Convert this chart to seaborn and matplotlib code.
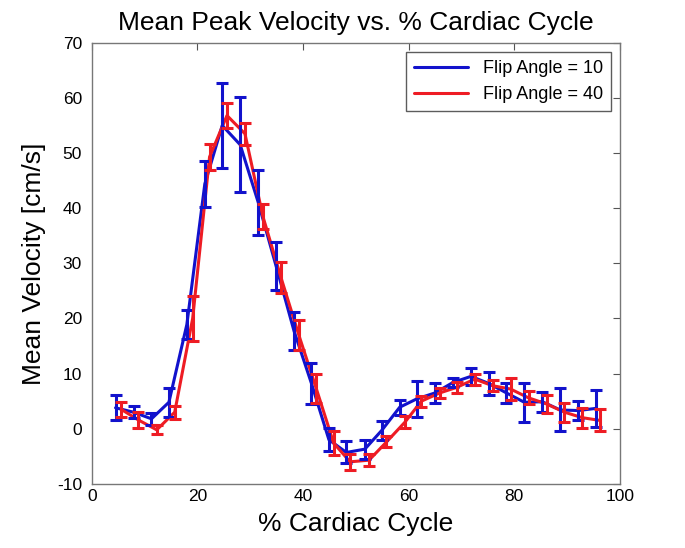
import numpy as np
import pandas as pd
import matplotlib
matplotlib.use("Agg")
import matplotlib.pyplot as plt
import seaborn as sns

# percent of cardiac cycle for each frame
x_fa10 = [4.5, 7.9, 11.3, 14.6, 18.0, 21.4, 24.7, 28.1, 31.5, 34.9, 38.3, 41.6, 44.9, 48.2,
          51.7, 54.9, 58.3, 61.5, 65.0, 68.4, 71.8, 75.2, 78.5, 81.9, 85.3, 88.7, 92.1, 95.5]
x_fa40 = [5.6, 8.8, 12.3, 15.7, 19.1, 22.3, 25.6, 29.0, 32.4, 35.8, 39.2, 42.5, 45.8, 48.9,
          52.5, 55.8, 59.3, 62.4, 65.9, 69.1, 72.5, 75.9, 79.3, 82.7, 86.1, 89.5, 92.9, 96.3]

# mean peak velocity [cm/s]
v_fa10 = [3.8, 3.0, 1.8, 4.8, 18.9, 44.4, 55.0, 51.5, 41.1, 29.5, 17.7, 8.2, -2.0, -4.3,
          -3.7, -0.3, 3.9, 5.4, 6.5, 8.4, 9.5, 8.2, 6.5, 4.8, 4.9, 3.4, 3.3, 3.7]
v_fa40 = [3.5, 1.6, -0.2, 3.0, 20.0, 49.3, 56.8, 53.5, 38.5, 27.5, 17.0, 7.3, -2.6, -6.0,
          -5.7, -2.4, 1.2, 5.0, 6.5, 7.5, 9.0, 7.8, 7.2, 5.6, 4.5, 3.0, 2.0, 1.5]

# standard deviations
e_fa10 = [2.3, 1.1, 1.1, 2.6, 2.7, 4.1, 7.7, 8.6, 5.9, 4.3, 3.4, 3.7, 2.1, 2.0,
          1.7, 1.7, 1.4, 3.2, 1.8, 0.8, 1.6, 2.0, 1.8, 3.5, 1.8, 3.9, 1.7, 3.3]
e_fa40 = [1.4, 1.5, 0.8, 1.2, 4.0, 2.3, 2.2, 2.0, 2.3, 2.8, 2.7, 2.6, 2.1, 1.5,
          1.1, 1.0, 1.1, 1.0, 0.9, 1.0, 1.0, 1.0, 2.0, 1.2, 1.6, 1.7, 1.8, 2.0]

labels = ["Flip Angle = 10", "Flip Angle = 40"]
colors = ["#1212cc", "#ee1c24"]

df = pd.DataFrame({
    "cycle": x_fa10 + x_fa40,
    "velocity": v_fa10 + v_fa40,
    "err": e_fa10 + e_fa40,
    "series": [labels[0]] * len(x_fa10) + [labels[1]] * len(x_fa40),
})

sns.set_style("white")
plt.rcParams["font.family"] = ["Liberation Sans", "DejaVu Sans"]
plt.rcParams["axes.unicode_minus"] = False
plt.rcParams["text.color"] = "black"
plt.rcParams["axes.labelcolor"] = "black"

fig = plt.figure(figsize=(6.85, 5.48), dpi=100)
ax = fig.add_axes([0.134, 0.117, 0.771, 0.805])

sns.lineplot(data=df, x="cycle", y="velocity", hue="series", palette=colors,
             linewidth=2.2, ax=ax, errorbar=None, sort=False)

for lab, col in zip(labels, colors):
    d = df[df["series"] == lab]
    ax.errorbar(d["cycle"], d["velocity"], yerr=d["err"], fmt="none", ecolor=col,
                elinewidth=2.2, capsize=4, capthick=2.2)

ax.set_xlim(0, 100)
ax.set_ylim(-10, 70)
ax.set_xticks(range(0, 101, 20))
ax.set_yticks(range(-10, 71, 10))
ax.tick_params(direction="in", length=5, labelsize=12.5, top=True, right=True,
               color="#555555", labelcolor="black")
ax.tick_params(axis="y", pad=7)
for s in ax.spines.values():
    s.set_color("#777777")
    s.set_linewidth(1.0)

ax.set_title("Mean Peak Velocity vs. % Cardiac Cycle", fontsize=19, pad=9)
ax.set_xlabel("% Cardiac Cycle", fontsize=19, labelpad=6)
ax.set_ylabel("Mean Velocity [cm/s]", fontsize=19, labelpad=8)

leg = ax.legend(loc="upper right", fontsize=13, frameon=True, fancybox=False,
                handlelength=3.0, borderaxespad=0.5, borderpad=0.45)
leg.get_frame().set_edgecolor("#333333")
leg.get_frame().set_linewidth(1.0)
for line in leg.get_lines():
    line.set_linewidth(2.2)

fig.savefig("out.png", dpi=100)
